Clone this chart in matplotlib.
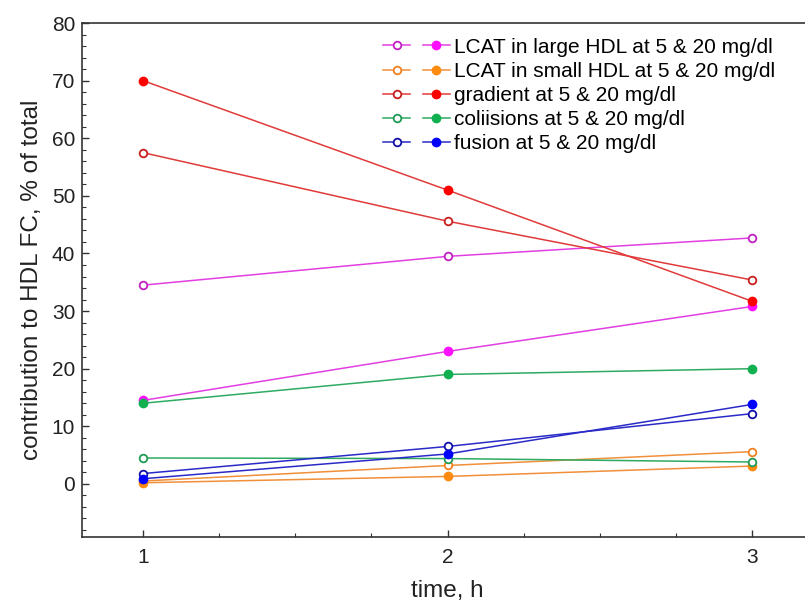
import matplotlib
matplotlib.use("Agg")
import matplotlib.pyplot as plt
from matplotlib.legend_handler import HandlerTuple
from matplotlib.ticker import MultipleLocator

plt.rcParams['font.family'] = ['Liberation Sans', 'DejaVu Sans']

time_h = [1, 2, 3]

labels = [
    "LCAT in large HDL at 5 & 20 mg/dl",
    "LCAT in small HDL at 5 & 20 mg/dl",
    "gradient at 5 & 20 mg/dl",
    "coliisions at 5 & 20 mg/dl",
    "fusion at 5 & 20 mg/dl",
]

# values at 5 mg/dl (open markers)
lcat_large_5 = [34.5, 39.5, 42.7]
lcat_small_5 = [0.5, 3.2, 5.6]
gradient_5 = [57.5, 45.6, 35.4]
collisions_5 = [4.5, 4.4, 3.8]
fusion_5 = [1.8, 6.5, 12.2]

# values at 20 mg/dl (filled markers)
lcat_large_20 = [14.5, 23.0, 30.8]
lcat_small_20 = [0.2, 1.3, 3.1]
gradient_20 = [70.0, 51.0, 31.7]
collisions_20 = [14.0, 19.0, 20.0]
fusion_20 = [0.9, 5.2, 13.8]

series_5 = [lcat_large_5, lcat_small_5, gradient_5, collisions_5, fusion_5]
series_20 = [lcat_large_20, lcat_small_20, gradient_20, collisions_20, fusion_20]

line_colors = ["#e23ee2", "#f0903a", "#e03a3a", "#2eaa62", "#2a2ac8"]
open_edge = ["#c020c0", "#f08020", "#c81e1e", "#1f9a55", "#1010a8"]
fill_colors = ["#ff10ff", "#ff8a10", "#ff0000", "#10b050", "#0000ff"]

fig = plt.figure(figsize=(8.05, 6.06), dpi=100)
ax = fig.add_axes([0.102, 0.114, 0.908, 0.848])

handles = []
for s5, s20, lc, oe, fc in zip(series_5, series_20, line_colors, open_edge, fill_colors):
    h_open, = ax.plot(time_h, s5, color=lc, lw=1.1, marker='o', ms=5.5,
                      mfc='white', mec=oe, mew=1.3)
    h_fill, = ax.plot(time_h, s20, color=lc, lw=1.1, marker='o', ms=6,
                      mfc=fc, mec=fc, mew=1.0)
    handles.append((h_open, h_fill))

ax.set_xlim(0.8, 3.2)
ax.set_ylim(-9.2, 80)
ax.set_xticks(time_h)
ax.set_yticks(range(0, 81, 10))
ax.xaxis.set_minor_locator(MultipleLocator(0.25))
ax.yaxis.set_minor_locator(MultipleLocator(2))
ax.tick_params(which='both', direction='in', top=False, right=False,
               labelsize=15, colors='#333333', labelcolor='#222222')
ax.tick_params(which='major', length=5, width=1)
ax.tick_params(which='minor', length=3, width=0.8)
ax.tick_params(axis='x', pad=8)
ax.tick_params(axis='y', pad=5)
for sp in ax.spines.values():
    sp.set_color('#333333')
    sp.set_linewidth(1.2)

ax.set_xlabel("time, h", fontsize=17.5, color='#222222', labelpad=9)
ax.set_ylabel("contribution to HDL FC, % of total", fontsize=17.5,
              color='#222222', labelpad=6)

ax.legend(handles, labels, handler_map={tuple: HandlerTuple(ndivide=None, pad=0.6)},
          loc='upper left', bbox_to_anchor=(0.392, 1.0), frameon=False,
          fontsize=15, handlelength=3.2, handletextpad=0.2, labelspacing=0.25,
          borderaxespad=0.3)

fig.savefig("out.png", dpi=100)
